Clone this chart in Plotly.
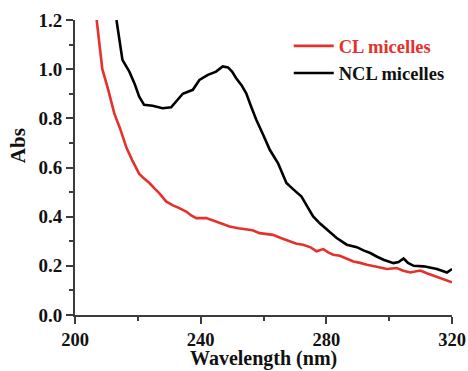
import plotly.graph_objects as go

# CL micelles (red)
cl_wl = [206.9, 208.7, 210.5, 212.5, 214.3, 216.4, 218.2, 220.4, 222.0, 223.6, 225.3, 226.8, 229.0, 231.0,
         233.2, 235.4, 237.0, 238.6, 241.8, 244.9, 247.0, 249.2, 252.0, 254.5, 256.5, 258.8, 261.0, 263.0,
         265.5, 268.4, 270.5, 272.6, 275.0, 276.9, 279.0, 280.6, 282.2, 284.3, 286.5, 288.6, 290.8,
         292.9, 296.0, 299.3, 302.4, 304.5, 306.7, 309.9, 312.0, 314.2, 317.0, 320.0]
cl_abs = [1.20, 1.00, 0.92, 0.82, 0.76, 0.68, 0.63, 0.575, 0.555, 0.538, 0.515, 0.496, 0.462, 0.447,
          0.435, 0.421, 0.405, 0.394, 0.394, 0.380, 0.370, 0.360, 0.353, 0.350, 0.345, 0.333, 0.330, 0.326,
          0.313, 0.299, 0.290, 0.286, 0.275, 0.259, 0.268, 0.255, 0.245, 0.241, 0.230, 0.218, 0.212,
          0.204, 0.196, 0.187, 0.191, 0.180, 0.173, 0.181, 0.170, 0.160, 0.148, 0.133]

# NCL micelles (black)
ncl_wl = [213.2, 214.2, 215.1, 217.3, 219.0, 220.4, 222.0, 224.7, 227.9, 230.6, 232.2, 234.3, 237.5,
          239.6, 242.3, 244.9, 247.0, 248.7, 250.0, 251.3, 253.0, 254.5, 256.0, 257.7, 260.0, 262.0,
          264.6, 267.3, 269.4, 272.1, 274.0, 275.8, 278.0, 280.1, 283.3, 286.5, 289.7, 292.0, 294.0,
          296.0, 298.2, 301.4, 303.0, 304.6, 306.0, 307.8, 311.0, 315.2, 318.4, 320.0]
ncl_abs = [1.20, 1.12, 1.038, 0.990, 0.94, 0.889, 0.855, 0.851, 0.841, 0.845, 0.868, 0.900, 0.916,
           0.956, 0.977, 0.990, 1.011, 1.007, 0.990, 0.963, 0.935, 0.902, 0.85, 0.794, 0.73, 0.672,
           0.618, 0.537, 0.512, 0.482, 0.44, 0.401, 0.372, 0.347, 0.313, 0.286, 0.276, 0.262, 0.252,
           0.238, 0.225, 0.211, 0.215, 0.230, 0.212, 0.200, 0.198, 0.187, 0.173, 0.187]

x_ticks = [200, 240, 280, 320]
y_ticks = [0.0, 0.2, 0.4, 0.6, 0.8, 1.0, 1.2]

RED = "#e5312b"
FONT = "Liberation Serif, Times New Roman, serif"
AX = "#3c3c3c"

fig = go.Figure()
fig.add_trace(go.Scatter(x=cl_wl, y=cl_abs, mode="lines", name='<span style="color:%s">CL micelles</span>' % RED,
                         line=dict(color=RED, width=2.6)))
fig.add_trace(go.Scatter(x=ncl_wl, y=ncl_abs, mode="lines", name="NCL micelles",
                         line=dict(color="#000000", width=2.6)))

fig.update_layout(
    width=468, height=371,
    margin=dict(l=75, r=16, t=20, b=56, autoexpand=False),
    paper_bgcolor="white", plot_bgcolor="white",
    font=dict(family=FONT, size=18, color="#111111", weight="bold"),
    showlegend=True,
    legend=dict(x=0.567, y=0.975, xanchor="left", yanchor="top", bgcolor="rgba(0,0,0,0)",
                font=dict(family=FONT, size=18.5, weight="bold"), tracegroupgap=0, itemwidth=40),
    xaxis=dict(range=[200, 320], tickvals=x_ticks, ticktext=[str(v) for v in x_ticks], automargin=False,
               showgrid=False, zeroline=False, showline=True, linecolor=AX, linewidth=2,
               ticks="outside", ticklen=7, tickwidth=2, tickcolor=AX,
               minor=dict(dtick=20, ticks="outside", ticklen=4, tickwidth=2, tickcolor=AX),
               tickfont=dict(family=FONT, size=18.5, weight="bold")),
    yaxis=dict(range=[0, 1.2], tickvals=y_ticks, ticktext=["%.1f" % v for v in y_ticks], automargin=False,
               showgrid=False, zeroline=False, showline=True, linecolor=AX, linewidth=2,
               ticks="outside", ticklen=7, tickwidth=2, tickcolor=AX,
               minor=dict(dtick=0.1, ticks="outside", ticklen=4, tickwidth=2, tickcolor=AX),
               tickfont=dict(family=FONT, size=19, weight="bold")),
    annotations=[
        dict(text="Abs", xref="paper", yref="paper", x=-0.149, y=0.575, xanchor="center",
             yanchor="middle", textangle=-90, showarrow=False,
             font=dict(family=FONT, size=21, weight="bold")),
        dict(text="Wavelength (nm)", xref="paper", yref="paper", x=0.5, y=-0.1886, xanchor="center",
             yanchor="bottom", showarrow=False, borderpad=0,
             font=dict(family=FONT, size=20, weight="bold")),
    ],
)

fig.write_html("out.html")
